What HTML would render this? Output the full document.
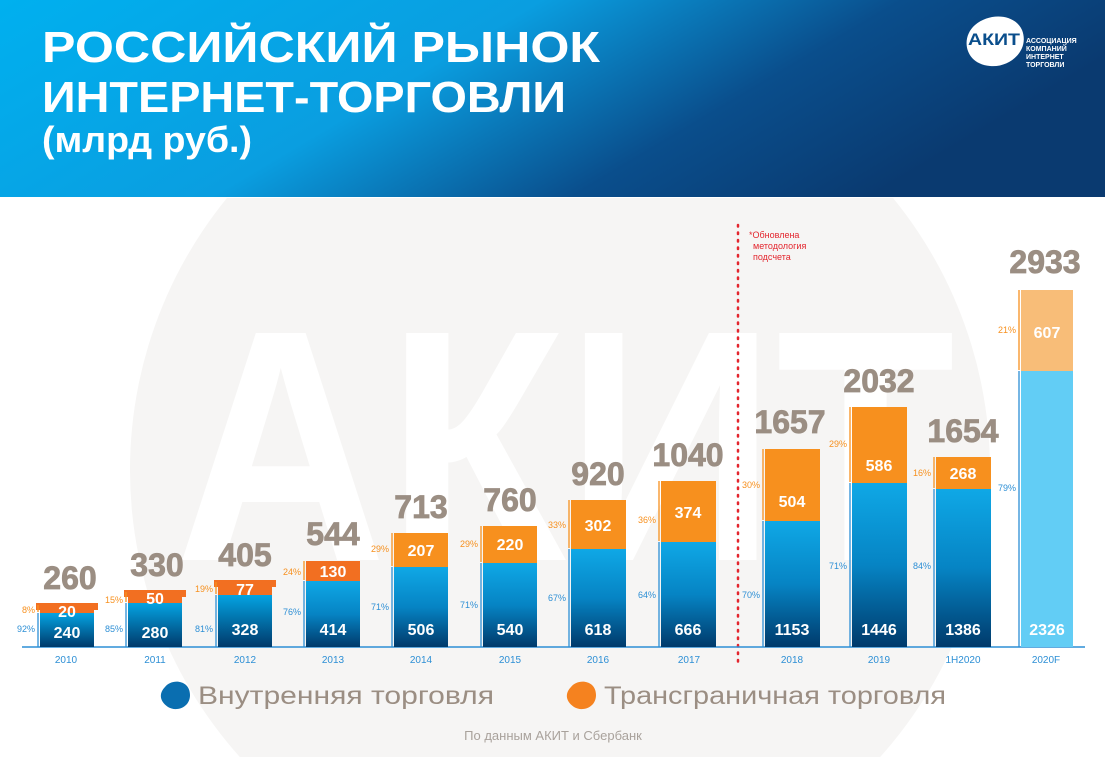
<!DOCTYPE html>
<html><head><meta charset="utf-8"><style>
html,body{margin:0;padding:0}
body{width:1105px;height:757px;overflow:hidden;background:#fff;font-family:"Liberation Sans",sans-serif}
svg{display:block}
</style></head><body>
<svg width="1105" height="757" xmlns="http://www.w3.org/2000/svg" font-family="Liberation Sans, sans-serif">
<defs>
<linearGradient id="hd" x1="0" y1="0" x2="1" y2="0.3"><stop offset="0" stop-color="#00b0ef"/><stop offset="0.45" stop-color="#0a9ee0"/><stop offset="0.75" stop-color="#0a4e8c"/><stop offset="1" stop-color="#0a3a70"/></linearGradient>
<linearGradient id="bl" x1="0" y1="0" x2="0" y2="1"><stop offset="0" stop-color="#04a3e2"/><stop offset="1" stop-color="#003a6b"/></linearGradient>
<linearGradient id="bl2" x1="0" y1="0" x2="0" y2="1"><stop offset="0" stop-color="#0fa8e6"/><stop offset="0.5" stop-color="#0684c4"/><stop offset="1" stop-color="#003a6b"/></linearGradient>
<clipPath id="cp"><rect x="0" y="198" width="1105" height="560"/></clipPath>
</defs>
<g clip-path="url(#cp)">
<circle cx="560" cy="470" r="430" fill="#f6f5f4"/>
<text x="565" y="560" font-size="330" font-weight="bold" fill="#fff" text-anchor="middle" textLength="780" lengthAdjust="spacingAndGlyphs">АКИТ</text>
</g>
<rect x="0" y="0" width="1105" height="197" fill="url(#hd)"/>
<text x="42" y="62" font-size="44" font-weight="bold" fill="#fff" textLength="558" lengthAdjust="spacingAndGlyphs">РОССИЙСКИЙ РЫНОК</text>
<text x="42" y="112" font-size="44" font-weight="bold" fill="#fff" textLength="524" lengthAdjust="spacingAndGlyphs">ИНТЕРНЕТ-ТОРГОВЛИ</text>
<text x="42" y="152" font-size="36" font-weight="bold" fill="#fff" textLength="210" lengthAdjust="spacingAndGlyphs">(млрд руб.)</text>
<path d="M975 25 C990 12 1015 14 1022 30 C1030 50 1010 68 990 66 C965 64 960 38 975 25Z" fill="#fff"/>
<text x="968" y="45" font-size="17" font-weight="bold" fill="#0a4e8c" textLength="52" lengthAdjust="spacingAndGlyphs">АКИТ</text>
<g font-size="7" font-weight="bold" fill="#fff"><text x="1026" y="43">АССОЦИАЦИЯ</text><text x="1026" y="51">КОМПАНИЙ</text><text x="1026" y="59">ИНТЕРНЕТ</text><text x="1026" y="67">ТОРГОВЛИ</text></g>

<line x1="738" y1="225" x2="738" y2="662" stroke="#e3262e" stroke-width="2.5" stroke-dasharray="1.5 6" stroke-linecap="round"/>
<g font-size="9" fill="#e3262e"><text x="749" y="238">*Обновлена</text><text x="753" y="249">методология</text><text x="753" y="260">подсчета</text></g>

<line x1="22" y1="647" x2="1085" y2="647" stroke="#2d8fd5" stroke-width="1.5"/>

<g font-weight="bold" text-anchor="middle">
<rect x="40" y="605" width="54" height="13" fill="#f26f21"/><rect x="36" y="603" width="62" height="7" fill="#f26f21"/><rect x="40" y="613" width="54" height="34" fill="url(#bl)"/>
<rect x="128" y="592" width="54" height="14" fill="#f26f21"/><rect x="124" y="590" width="62" height="7" fill="#f26f21"/><rect x="128" y="603" width="54" height="44" fill="url(#bl)"/>
<rect x="218" y="582" width="54" height="16" fill="#f26f21"/><rect x="214" y="580" width="62" height="7" fill="#f26f21"/><rect x="218" y="595" width="54" height="52" fill="url(#bl)"/>
<rect x="306" y="561" width="54" height="20" fill="#f26f21"/><rect x="306" y="581" width="54" height="66" fill="url(#bl2)"/>
<rect x="394" y="533" width="54" height="34" fill="#f7901e"/><rect x="394" y="567" width="54" height="80" fill="url(#bl2)"/>
<rect x="483" y="526" width="54" height="37" fill="#f7901e"/><rect x="483" y="563" width="54" height="84" fill="url(#bl2)"/>
<rect x="571" y="500" width="55" height="49" fill="#f7901e"/><rect x="571" y="549" width="55" height="98" fill="url(#bl2)"/>
<rect x="661" y="481" width="55" height="61" fill="#f7901e"/><rect x="661" y="542" width="55" height="105" fill="url(#bl2)"/>
<rect x="765" y="449" width="55" height="72" fill="#f7901e"/><rect x="765" y="521" width="55" height="126" fill="url(#bl2)"/>
<rect x="852" y="407" width="55" height="76" fill="#f7901e"/><rect x="852" y="483" width="55" height="164" fill="url(#bl2)"/>
<rect x="936" y="457" width="55" height="32" fill="#f7901e"/><rect x="936" y="489" width="55" height="158" fill="url(#bl2)"/>
<rect x="1021" y="290" width="52" height="81" fill="#f8bd78"/><rect x="1021" y="371" width="52" height="276" fill="#62cdf5"/>

<g fill="#fff" font-size="16">
<text x="67" y="617">20</text><text x="67" y="638">240</text>
<text x="155" y="604">50</text><text x="155" y="638">280</text>
<text x="245" y="595">77</text><text x="245" y="635">328</text>
<text x="333" y="577">130</text><text x="333" y="635">414</text>
<text x="421" y="556">207</text><text x="421" y="635">506</text>
<text x="510" y="550">220</text><text x="510" y="635">540</text>
<text x="598" y="531">302</text><text x="598" y="635">618</text>
<text x="688" y="518">374</text><text x="688" y="635">666</text>
<text x="792" y="507">504</text><text x="792" y="635">1153</text>
<text x="879" y="471">586</text><text x="879" y="635">1446</text>
<text x="963" y="479">268</text><text x="963" y="635">1386</text>
<text x="1047" y="338">607</text><text x="1047" y="635">2326</text>
</g>
<g fill="#9b8e83" font-size="32" stroke="#9b8e83" stroke-width="0.8">
<text x="70" y="589">260</text><text x="157" y="576">330</text><text x="245" y="566">405</text>
<text x="333" y="545">544</text><text x="421" y="518">713</text><text x="510" y="511">760</text>
<text x="598" y="485">920</text><text x="688" y="466">1040</text><text x="790" y="433">1657</text>
<text x="879" y="392">2032</text><text x="963" y="442">1654</text><text x="1045" y="273">2933</text>
</g>
</g>
<g fill="none" stroke-width="1.3">
<g stroke="#2d8fd5"><path d="M38 613V647"/><path d="M126 603V647"/><path d="M216 595V647"/><path d="M304 581V647"/><path d="M392 567V647"/><path d="M481 563V647"/><path d="M569 549V647"/><path d="M659 542V647"/><path d="M763 521V647"/><path d="M850 483V647"/><path d="M934 489V647"/><path d="M1019 371V647"/></g>
<g stroke="#f7901e"><path d="M38 605V612"/><path d="M126 592V602"/><path d="M216 582V594"/><path d="M304 561V580"/><path d="M392 533V566"/><path d="M481 526V562"/><path d="M569 500V548"/><path d="M659 481V541"/><path d="M763 449V520"/><path d="M850 407V482"/><path d="M934 457V488"/><path d="M1019 290V370"/></g>
</g>
<g font-size="9" text-anchor="end">
<g fill="#f7901e"><text x="35" y="613">8%</text><text x="123" y="603">15%</text><text x="213" y="592">19%</text><text x="301" y="575">24%</text><text x="389" y="552">29%</text><text x="478" y="547">29%</text><text x="566" y="528">33%</text><text x="656" y="523">36%</text><text x="760" y="488">30%</text><text x="847" y="447">29%</text><text x="931" y="476">16%</text><text x="1016" y="333">21%</text></g>
<g fill="#2d8fd5"><text x="35" y="632">92%</text><text x="123" y="632">85%</text><text x="213" y="632">81%</text><text x="301" y="615">76%</text><text x="389" y="610">71%</text><text x="478" y="608">71%</text><text x="566" y="601">67%</text><text x="656" y="598">64%</text><text x="760" y="598">70%</text><text x="847" y="569">71%</text><text x="931" y="569">84%</text><text x="1016" y="491">79%</text></g>
</g>
<g font-size="10" fill="#2d8fd5" text-anchor="middle">
<text x="66" y="663">2010</text><text x="155" y="663">2011</text><text x="245" y="663">2012</text><text x="333" y="663">2013</text><text x="421" y="663">2014</text><text x="510" y="663">2015</text><text x="598" y="663">2016</text><text x="689" y="663">2017</text><text x="792" y="663">2018</text><text x="879" y="663">2019</text><text x="963" y="663">1H2020</text><text x="1046" y="663">2020F</text>
</g>
<path d="M165 687 C172 678 190 680 190 695 C190 708 176 712 168 707 C158 700 160 692 165 687Z" fill="#0a6eb0"/>
<text x="198" y="704" font-size="25" fill="#9b8e83" textLength="296" lengthAdjust="spacingAndGlyphs">Внутренняя торговля</text>
<path d="M571 687 C578 678 596 680 596 695 C596 708 582 712 574 707 C564 700 566 692 571 687Z" fill="#f5821f"/>
<text x="604" y="704" font-size="25" fill="#9b8e83" textLength="342" lengthAdjust="spacingAndGlyphs">Трансграничная торговля</text>
<text x="553" y="740" font-size="13" fill="#a9a29c" text-anchor="middle">По данным АКИТ и Сбербанк</text>
</svg>
</body></html>
